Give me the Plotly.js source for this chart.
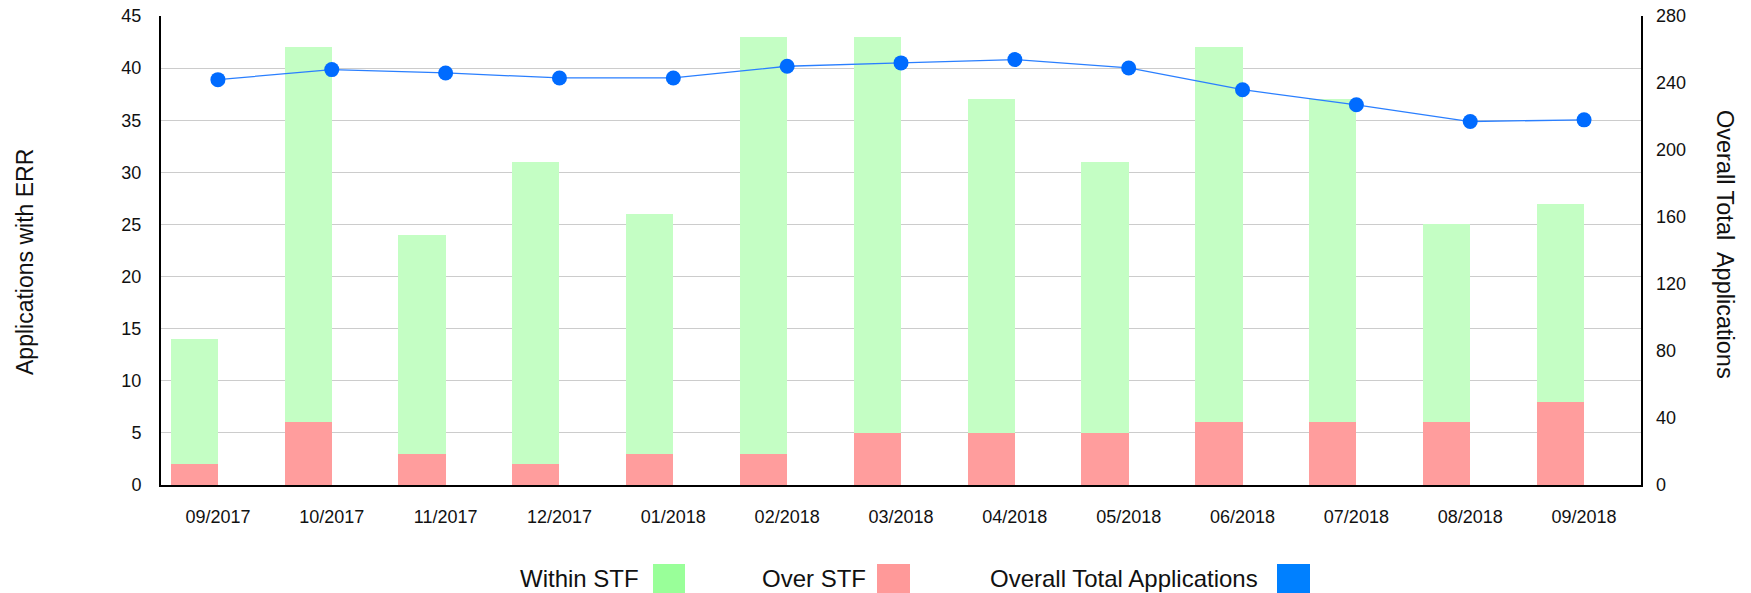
<!DOCTYPE html>
<html>
<head>
<meta charset="utf-8">
<script src="https://cdn.plot.ly/plotly-3.0.1.min.js"></script>
<style>html,body{margin:0;padding:0;background:#fff;}#chart{width:1751px;height:593px;}</style>
</head>
<body>
<div id="chart"></div>
<script>
const months = ["09/2017","10/2017","11/2017","12/2017","01/2018","02/2018","03/2018","04/2018","05/2018","06/2018","07/2018","08/2018","09/2018"];
const overSTF = [2, 6, 3, 2, 3, 3, 5, 5, 5, 6, 6, 6, 8];
const withinSTF = [12, 36, 21, 29, 23, 40, 38, 32, 26, 36, 31, 19, 19];
const overallTotal = [242, 248, 246, 243, 243, 250, 252, 254, 249, 236, 227, 217, 218];

const FONT = "Liberation Sans, Arial, sans-serif";
const barW = 0.415;

const traces = [
  {type: "bar", name: "Over STF", x: months, y: overSTF, width: barW, offset: -barW,
   marker: {color: "#ff9d9d", line: {width: 0}}, hoverinfo: "x+y"},
  {type: "bar", name: "Within STF", x: months, y: withinSTF, width: barW, offset: -barW,
   marker: {color: "#c4fec4", line: {width: 0}}, hoverinfo: "x+y"},
  {type: "scatter", mode: "lines+markers", name: "Overall Total Applications", x: months, y: overallTotal,
   yaxis: "y2", line: {color: "#2a7fff", width: 1.3}, marker: {color: "#006bff", size: 15}}
];

function px2x(p){ return (p - 161) / 1480; }
function py2y(p){ return (485 - p) / 469; }

const legendItems = [
  {label: "Within STF", color: "#99ff99", textRight: 640, sx0: 653, sx1: 685},
  {label: "Over STF", color: "#ff9999", textRight: 867, sx0: 877, sx1: 910},
  {label: "Overall Total Applications", color: "#0080ff", textRight: 1259, sx0: 1277, sx1: 1310}
];

const shapes = legendItems.map(it => ({
  type: "rect", xref: "paper", yref: "paper",
  x0: px2x(it.sx0), x1: px2x(it.sx1), y0: py2y(593), y1: py2y(564),
  fillcolor: it.color, line: {width: 0}
}));

const annotations = legendItems.map(it => ({
  xref: "paper", yref: "paper", x: px2x(it.textRight), y: py2y(578),
  xanchor: "right", yanchor: "middle", showarrow: false, text: it.label,
  font: {family: FONT, size: 24, color: "#111"}, borderpad: 0
}));

annotations.push({
  xref: "paper", yref: "paper", x: px2x(25), y: py2y(262), xanchor: "center", yanchor: "middle",
  showarrow: false, text: "Applications with ERR", textangle: -90,
  font: {family: FONT, size: 23, color: "#111"}
});
annotations.push({
  xref: "paper", yref: "paper", x: px2x(1725), y: py2y(244), xanchor: "center", yanchor: "middle",
  showarrow: false, text: "Overall Total\u00a0 Applications", textangle: 90,
  font: {family: FONT, size: 23.5, color: "#111"}
});

const layout = {
  width: 1751, height: 593,
  margin: {l: 161, r: 110, t: 16, b: 108, pad: 0},
  paper_bgcolor: "#fff", plot_bgcolor: "#fff",
  barmode: "stack",
  showlegend: false,
  font: {family: FONT, size: 18, color: "#111"},
  xaxis: {
    type: "category", showgrid: false, zeroline: false,
    showline: true, linecolor: "#000", linewidth: 2,
    ticks: "outside", ticklen: 14, tickcolor: "rgba(0,0,0,0)",
    tickfont: {family: FONT, size: 18, color: "#111"},
    range: [-0.5, 12.5], fixedrange: true
  },
  yaxis: {
    range: [0, 45], dtick: 5, tick0: 0,
    showgrid: true, gridcolor: "#cccccc", gridwidth: 1,
    zeroline: false, showline: true, linecolor: "#000", linewidth: 2,
    ticks: "outside", ticklen: 14, tickcolor: "rgba(0,0,0,0)",
    tickfont: {family: FONT, size: 18, color: "#111"}
  },
  yaxis2: {
    overlaying: "y", side: "right", range: [0, 280], dtick: 40, tick0: 0,
    showgrid: false, zeroline: false, showline: true, linecolor: "#000", linewidth: 1.5,
    ticks: "outside", ticklen: 10, tickcolor: "rgba(0,0,0,0)",
    tickfont: {family: FONT, size: 18, color: "#111"}
  },
  shapes: shapes,
  annotations: annotations
};

Plotly.newPlot("chart", traces, layout, {displayModeBar: false, staticPlot: true});
</script>
</body>
</html>
